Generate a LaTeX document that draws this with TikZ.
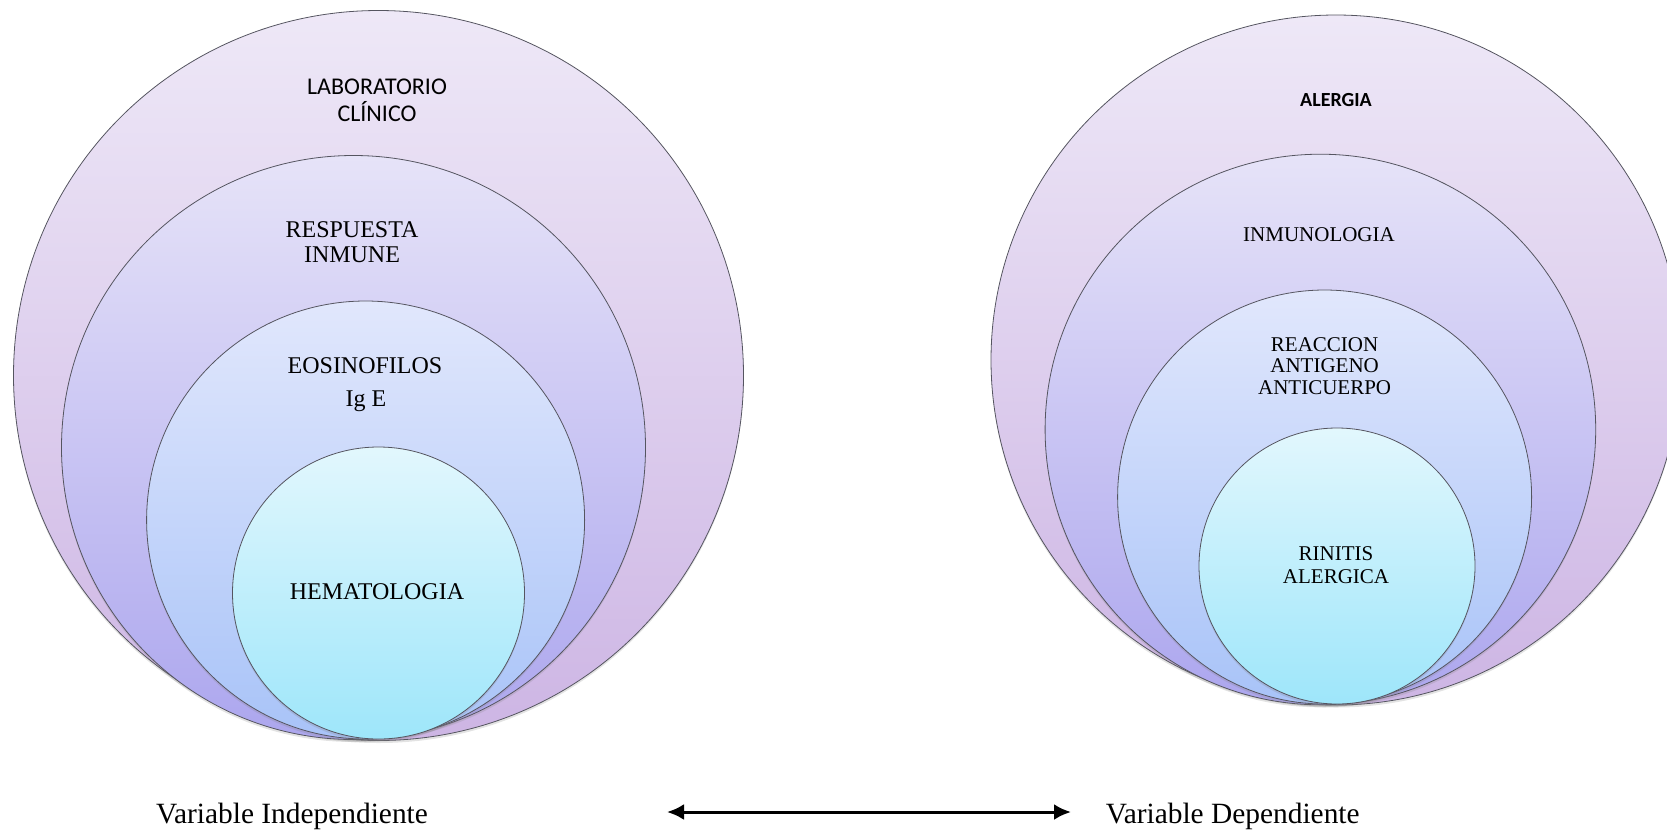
\documentclass[tikz,border=0pt]{standalone}
\usepackage{fontspec}
\setmainfont{Liberation Serif}
\newfontfamily\carl{Carlito}
\usetikzlibrary{arrows.meta,shadows}
\definecolor{oTop}{HTML}{EEE8F7}
\definecolor{oBot}{HTML}{CDB5E4}
\definecolor{sTop}{HTML}{E6E3F8}
\definecolor{sBot}{HTML}{ACA6EE}
\definecolor{tTop}{HTML}{E1E7FC}
\definecolor{tBot}{HTML}{A8C3F8}
\definecolor{iTop}{HTML}{E2F7FD}
\definecolor{iBot}{HTML}{9EE6FA}
\definecolor{edge}{HTML}{555560}
\tikzset{
  circ/.style={circle, inner sep=0pt, draw=edge, line width=0.8pt,
    drop shadow={opacity=0.22, shadow xshift=0pt, shadow yshift=-2.5pt}},
  lvl1/.style={circ, top color=oTop, bottom color=oBot},
  lvl2/.style={circ, top color=sTop, bottom color=sBot},
  lvl3/.style={circ, top color=tTop, bottom color=tBot},
  lvl4/.style={circ, top color=iTop, bottom color=iBot},
  sanslbl/.style={align=center, inner sep=0pt, font=\carl\fontsize{24}{26.6}\selectfont},
  serlbl/.style={align=center, inner sep=0pt, font=\fontsize{24}{25.5}\selectfont},
  serlblR/.style={align=center, inner sep=0pt, font=\fontsize{21}{21.8}\selectfont},
  varlbl/.style={inner sep=0pt, font=\fontsize{29.4}{32}\selectfont},
  dblarrow/.style={{Latex[length=17pt,width=16pt]}-{Latex[length=17pt,width=16pt]}, line width=3pt}
}
\begin{document}
\begin{tikzpicture}[x=1pt,y=-1pt]
\useasboundingbox (0,0) rectangle (1667,831);
% left stack
\node[lvl1, minimum size=730pt] (L1) at (378.5,375.5) {};
\node[lvl2, minimum size=584pt] (L2) at (353.5,447.5) {};
\node[lvl3, minimum size=438pt] (L3) at (365.6,520) {};
\node[lvl4, minimum size=292pt] (L4) at (378.5,593) {};
\node[sanslbl] (tL1) at (377,100) {LABORATORIO\\CLÍNICO};
\node[serlbl] (tL2) at (352,242) {RESPUESTA\\INMUNE};
\node[serlbl] (tL3) at (365,366) {EOSINOFILOS};
\node[serlbl] (tL3b) at (366,401) {Ig E};
\node[serlbl] (tL4) at (377,592) {HEMATOLOGIA};
% right stack
\node[lvl1, minimum size=690pt] (R1) at (1336,360) {};
\node[lvl2, minimum size=550.6pt] (R2) at (1320.4,429.5) {};
\node[lvl3, minimum size=414pt] (R3) at (1324.6,497) {};
\node[lvl4, minimum size=276pt] (R4) at (1337,566) {};
\node[inner sep=0pt, font=\carl\bfseries\fontsize{20}{24}\selectfont] (tR1) at (1336,100) {ALERGIA};
\node[serlblR] (tR2) at (1319,235) {INMUNOLOGIA};
\node[serlblR] (tR3) at (1324.6,366) {REACCION\\ANTIGENO\\ANTICUERPO};
\node[serlblR, font=\fontsize{21}{22.3}\selectfont] (tR4) at (1336,565) {RINITIS\\ALERGICA};
% bottom labels and arrow
\node[varlbl] (vi) at (292,816) {Variable Independiente};
\node[varlbl] (vd) at (1232.7,816) {Variable Dependiente};
\coordinate (aL) at (667,812);
\coordinate (aR) at (1071,812);
\draw[dblarrow] (aL) -- (aR);
\end{tikzpicture}
\end{document}
